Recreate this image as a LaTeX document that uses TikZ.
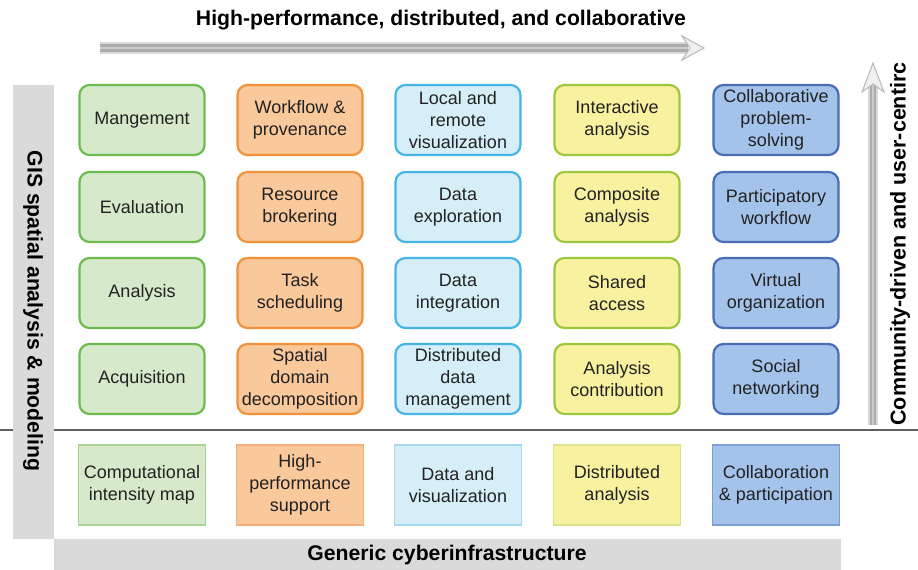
\documentclass[tikz,border=0pt]{standalone}
\usepackage{fontspec}
\setmainfont{Liberation Sans}
\usetikzlibrary{arrows.meta}
\definecolor{gfill}{HTML}{D6E9CB}\definecolor{gdraw}{HTML}{6DBB4F}\definecolor{gbase}{HTML}{A9D494}
\definecolor{ofill}{HTML}{F9C89B}\definecolor{odraw}{HTML}{F0923A}\definecolor{obase}{HTML}{F5B07A}
\definecolor{cfill}{HTML}{D6EEF7}\definecolor{cdraw}{HTML}{45B5E6}\definecolor{cbase}{HTML}{A6DAF1}
\definecolor{yfill}{HTML}{F8F1A0}\definecolor{ydraw}{HTML}{9DC83E}\definecolor{ybase}{HTML}{D9E38A}
\definecolor{bfill}{HTML}{A4C3EA}\definecolor{bdraw}{HTML}{4A6CB5}\definecolor{bbase}{HTML}{7E9FD6}
\definecolor{txt}{HTML}{222222}
\definecolor{barg}{HTML}{DADADA}
\tikzset{
  cell/.style={rounded corners=10pt, line width=2.2pt, minimum width=125pt, minimum height=70pt,
    align=center, inner sep=0pt, text=txt, font=\fontsize{18}{22}\selectfont},
  basebox/.style={rectangle, line width=1.3pt, minimum width=127pt, minimum height=80pt,
    align=center, inner sep=0pt, text=txt, font=\fontsize{18}{22}\selectfont},
  gc/.style={cell, fill=gfill, draw=gdraw}, gb/.style={basebox, fill=gfill, draw=gbase},
  oc/.style={cell, fill=ofill, draw=odraw}, ob/.style={basebox, fill=ofill, draw=obase},
  cc/.style={cell, fill=cfill, draw=cdraw}, cb/.style={basebox, fill=cfill, draw=cbase},
  yc/.style={cell, fill=yfill, draw=ydraw}, yb/.style={basebox, fill=yfill, draw=ybase},
  bc/.style={cell, fill=bfill, draw=bdraw}, bb/.style={basebox, fill=bfill, draw=bbase},
  lbl/.style={font=\bfseries\fontsize{21.2}{24}\selectfont, text=black, inner sep=0pt},
  chev/.style={fill=gray!12, draw=gray!55, line width=1pt, line join=miter}
}
\begin{document}
\begin{tikzpicture}[x=1pt,y=-1pt]
\useasboundingbox (0,0) rectangle (918,570);
% separator line
\coordinate (sepL) at (0,430);
\coordinate (sepR) at (918,430);
\draw[line width=1.8pt, gray!75!black] (sepL) -- (sepR);
% gray bars
\fill[barg] (13,85) rectangle (54,539);
\fill[barg] (54,539) rectangle (841,570);
\node[lbl, rotate=-90] (gis) at (33,311) {GIS spatial analysis \& modeling};
\node[lbl] (gci) at (447,555) {Generic cyberinfrastructure};
% top arrow
\node[lbl] (top) at (441,20) {High-performance, distributed, and collaborative};
\coordinate (hA) at (100,48);
\coordinate (hB) at (688,48);
\draw[line width=12pt, gray!30] (hA) -- (hB);
\draw[line width=8pt, gray!65] (hA) -- (hB);
\draw[line width=2.5pt, gray!40] (hA) -- (hB);
\draw[chev] (682,36) -- (704,48) -- (682,60) -- (690,48) -- cycle;
% right arrow
\node[lbl, font=\bfseries\fontsize{21.5}{24}\selectfont, rotate=90] (comm) at (900,244) {Community-driven and user-centirc};
\coordinate (vA) at (873,425);
\coordinate (vB) at (873,82);
\draw[line width=10pt, gray!30] (vA) -- (vB);
\draw[line width=6.5pt, gray!65] (vA) -- (vB);
\draw[line width=2pt, gray!40] (vA) -- (vB);
\draw[chev] (862,92) -- (873,63) -- (884,92) -- (873,84) -- cycle;
% column 1
\node[gc] (g1) at (142,120) {Mangement};
\node[gc] (g2) at (142,207) {Evaluation};
\node[gc] (g3) at (142,293) {Analysis};
\node[gc] (g4) at (142,379) {Acquisition};
\node[gb] (g5) at (142,485) {Computational\\intensity map};
% column 2
\node[oc] (o1) at (300,120) {Workflow \&\\provenance};
\node[oc] (o2) at (300,207) {Resource\\brokering};
\node[oc] (o3) at (300,293) {Task\\scheduling};
\node[oc] (o4) at (300,379) {Spatial\\domain\\decomposition};
\node[ob] (o5) at (300,485) {High-\\performance\\support};
% column 3
\node[cc] (c1) at (458,120) {Local and\\remote\\visualization};
\node[cc] (c2) at (458,207) {Data\\exploration};
\node[cc] (c3) at (458,293) {Data\\integration};
\node[cc] (c4) at (458,379) {Distributed\\data\\management};
\node[cb] (c5) at (458,485) {Data and\\visualization};
% column 4
\node[yc] (y1) at (617,120) {Interactive\\analysis};
\node[yc] (y2) at (617,207) {Composite\\analysis};
\node[yc] (y3) at (617,293) {Shared\\access};
\node[yc] (y4) at (617,379) {Analysis\\contribution};
\node[yb] (y5) at (617,485) {Distributed\\analysis};
% column 5
\node[bc] (b1) at (776,120) {Collaborative\\problem-\\solving};
\node[bc] (b2) at (776,207) {Participatory\\workflow};
\node[bc] (b3) at (776,293) {Virtual\\organization};
\node[bc] (b4) at (776,379) {Social\\networking};
\node[bb] (b5) at (776,485) {Collaboration\\\& participation};
\end{tikzpicture}
\end{document}
